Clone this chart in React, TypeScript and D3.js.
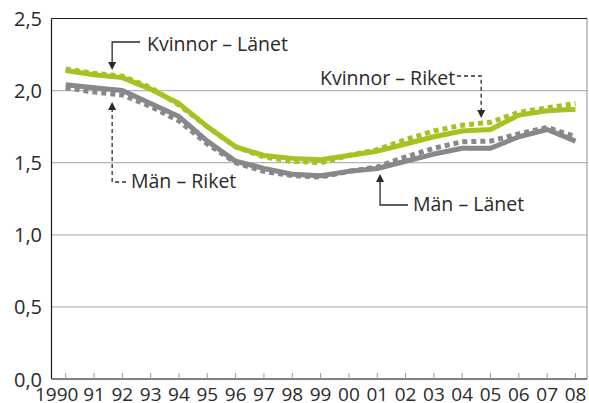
import React from "react";
import * as d3 from "d3";

const years = d3.range(1990, 2009);
const yearLabels = ["1990", "91", "92", "93", "94", "95", "96", "97", "98", "99", "00", "01", "02", "03", "04", "05", "06", "07", "08"];
const yTicks = [0, 0.5, 1, 1.5, 2, 2.5];

// Kvinnor – Länet (solid green)
const kvinnorLanet = [2.14, 2.11, 2.09, 2.01, 1.91, 1.75, 1.61, 1.55, 1.53, 1.52, 1.55, 1.58, 1.63, 1.68, 1.72, 1.73, 1.83, 1.86, 1.87];
// Kvinnor – Riket (dotted green)
const kvinnorRiket = [2.15, 2.12, 2.1, 2.02, 1.9, 1.75, 1.61, 1.54, 1.51, 1.5, 1.55, 1.59, 1.66, 1.72, 1.76, 1.78, 1.85, 1.88, 1.91];
// Män – Länet (solid grey)
const manLanet = [2.04, 2.02, 2.0, 1.91, 1.82, 1.65, 1.51, 1.46, 1.42, 1.41, 1.44, 1.46, 1.51, 1.56, 1.6, 1.6, 1.68, 1.73, 1.65];
// Män – Riket (dotted grey)
const manRiket = [2.02, 1.99, 1.97, 1.89, 1.79, 1.63, 1.5, 1.44, 1.41, 1.4, 1.44, 1.47, 1.54, 1.6, 1.645, 1.65, 1.7, 1.745, 1.68];

const GREEN = "#a8c022";
const GREY = "#87878c";
const TEXT = "#2a2a2a";
const FONT = "'Open Sans', 'Noto Sans', sans-serif";

const W = 589;
const H = 403;
const left = 51.5;
const right = 587;
const top = 18.5;
const bottom = 379;

const x = d3.scaleLinear().domain([1990, 2008]).range([65.7, 575.5]);
const y = d3.scaleLinear().domain([0, 2.5]).range([bottom, top]);

const line = d3
  .line<number>()
  .x((_, i) => x(years[i]))
  .y((d) => y(d));

const Arrow = ({ tx, ty, dir }: { tx: number; ty: number; dir: "up" | "down" }) => {
  const s = dir === "down" ? -1 : 1;
  const pts = [
    [tx, ty],
    [tx - 4, ty + s * 8],
    [tx + 4, ty + s * 8],
  ];
  return <polygon points={pts.map((p) => p.join(",")).join(" ")} fill={TEXT} />;
};

const App = () => {
  const series = [
    { data: kvinnorRiket, color: GREEN, dotted: true },
    { data: kvinnorLanet, color: GREEN, dotted: false },
    { data: manRiket, color: GREY, dotted: true },
    { data: manLanet, color: GREY, dotted: false },
  ];

  // annotation anchors
  const kl = { x: x(1991.64), y: 70 };
  const mr = { x: x(1991.64), y: 102 };
  const kr = { x: x(2004.67), y: 118 };
  const ml = { x: x(2001.1), y: 174 };

  return (
    <svg
      width={W}
      height={H}
      style={{ position: "absolute", left: 0, top: 0, background: "#fff" }}
      fontFamily={FONT}
    >
      {/* grid */}
      {yTicks.slice(1, -1).map((t) => (
        <line key={t} x1={left} x2={right} y1={y(t)} y2={y(t)} stroke="#b4b4b4" strokeWidth={1.2} />
      ))}
      {/* frame */}
      <line x1={right} x2={right} y1={top} y2={bottom} stroke="#a0a0a0" strokeWidth={1.2} />
      <line x1={left} x2={right} y1={top} y2={top} stroke="#1a1a1a" strokeWidth={1.2} />
      <line x1={left} x2={left} y1={top} y2={bottom} stroke="#1a1a1a" strokeWidth={1.2} />
      <line x1={left} x2={right} y1={bottom} y2={bottom} stroke="#555" strokeWidth={1.6} />
      {years.map((yr) => (
        <line key={yr} x1={x(yr)} x2={x(yr)} y1={bottom} y2={bottom - 6} stroke="#9a9a9a" strokeWidth={1} />
      ))}
      {/* y labels */}
      {yTicks.map((t) => (
        <text key={t} x={42} y={y(t) + 7.5} textAnchor="end" fontSize={20} fill={TEXT}>
          {t.toFixed(1).replace(".", ",")}
        </text>
      ))}
      {/* x labels */}
      {years.map((yr, i) => (
        <text
          key={yr}
          x={x(yr) + (i === 0 ? -9 : 0)}
          y={401}
          textAnchor="middle"
          fontSize={19}
          fill={TEXT}
        >
          {yearLabels[i]}
        </text>
      ))}
      {/* series */}
      {series.map((s, i) => (
        <path
          key={i}
          d={line(s.data) || ""}
          fill="none"
          stroke={s.color}
          strokeWidth={5}
          strokeDasharray={s.dotted ? "5 4" : undefined}
          strokeLinejoin="round"
        />
      ))}
      {/* Kvinnor – Länet */}
      <path d={`M${kl.x},${kl.y - 6} V42 H140`} fill="none" stroke={TEXT} strokeWidth={1.3} />
      <Arrow tx={kl.x} ty={kl.y} dir="down" />
      <text x={147} y={51} fontSize={19.5} fill={TEXT}>Kvinnor – Länet</text>
      {/* Män – Riket */}
      <path d={`M${mr.x},${mr.y + 6} V182 H126`} fill="none" stroke={TEXT} strokeWidth={1.3} strokeDasharray="4 3" />
      <Arrow tx={mr.x} ty={mr.y} dir="up" />
      <text x={131} y={188} fontSize={19.5} fill={TEXT}>Män – Riket</text>
      {/* Kvinnor – Riket */}
      <path d={`M457,76 H${kr.x} V${kr.y - 6}`} fill="none" stroke={TEXT} strokeWidth={1.3} strokeDasharray="4 3" />
      <Arrow tx={kr.x} ty={kr.y} dir="down" />
      <text x={320} y={85} fontSize={19.5} fill={TEXT}>Kvinnor – Riket</text>
      {/* Män – Länet */}
      <path d={`M${ml.x},${ml.y + 6} V205 H408`} fill="none" stroke={TEXT} strokeWidth={1.3} />
      <Arrow tx={ml.x} ty={ml.y} dir="up" />
      <text x={413} y={211} fontSize={19.5} fill={TEXT}>Män – Länet</text>
    </svg>
  );
};

export default App;
